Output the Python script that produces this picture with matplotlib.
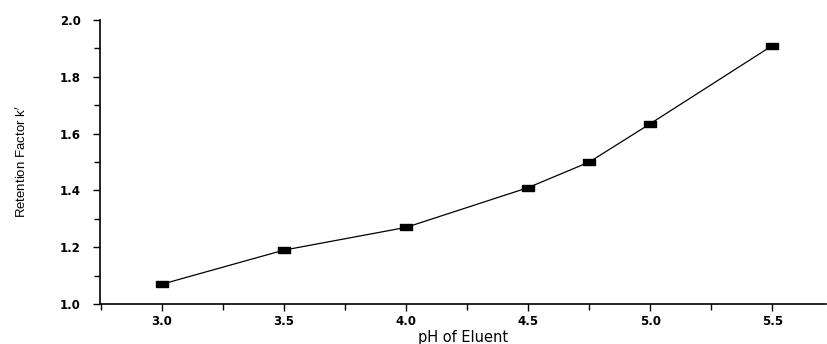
import numpy as np
import matplotlib
matplotlib.use("Agg")
import matplotlib.pyplot as plt
from matplotlib.ticker import MultipleLocator, FormatStrFormatter

# Datos
ph = [3.0, 3.5, 4.0, 4.5, 4.75, 5.0, 5.5]
k_ret = [1.07, 1.19, 1.27, 1.41, 1.50, 1.635, 1.91]

# marcador rectangular (más ancho que alto)
rect = [(-1, -0.55), (1, -0.55), (1, 0.55), (-1, 0.55), (-1, -0.55)]

fig = plt.figure(figsize=(8.27, 3.44), dpi=100)
ax = fig.add_axes([0.121, 0.116, 0.878, 0.826])

ax.plot(ph, k_ret, '-', color='black', lw=0.9,
        marker=rect, markersize=9, markerfacecolor='black', markeredgecolor='black')

ax.set_xlim(2.747, 5.72)
ax.set_ylim(1.0, 2.0)
ax.xaxis.set_major_locator(MultipleLocator(0.5))
ax.xaxis.set_minor_locator(MultipleLocator(0.25))
ax.yaxis.set_major_locator(MultipleLocator(0.2))
ax.yaxis.set_minor_locator(MultipleLocator(0.1))
ax.xaxis.set_major_formatter(FormatStrFormatter('%.1f'))
ax.yaxis.set_major_formatter(FormatStrFormatter('%.1f'))

for s in ['top', 'right']:
    ax.spines[s].set_visible(False)
for s in ['left', 'bottom']:
    ax.spines[s].set_linewidth(1.2)

ax.tick_params(which='both', direction='out', width=1.0, color='black')
ax.tick_params(axis='y', which='major', length=5, pad=9)
ax.tick_params(axis='x', which='major', length=5, pad=3)
ax.tick_params(which='minor', length=4)
for lab in ax.get_xticklabels() + ax.get_yticklabels():
    lab.set_fontweight('bold')
    lab.set_fontsize(8.5)
    lab.set_family('DejaVu Sans')

ax.set_xlabel('pH of Eluent', fontsize=10.5, family='DejaVu Sans', labelpad=1)
ax.set_ylabel(r"Retention Factor k$^{\prime}$", fontsize=9.5,
              family='Liberation Sans', labelpad=22)

fig.savefig('out.png', dpi=100)
